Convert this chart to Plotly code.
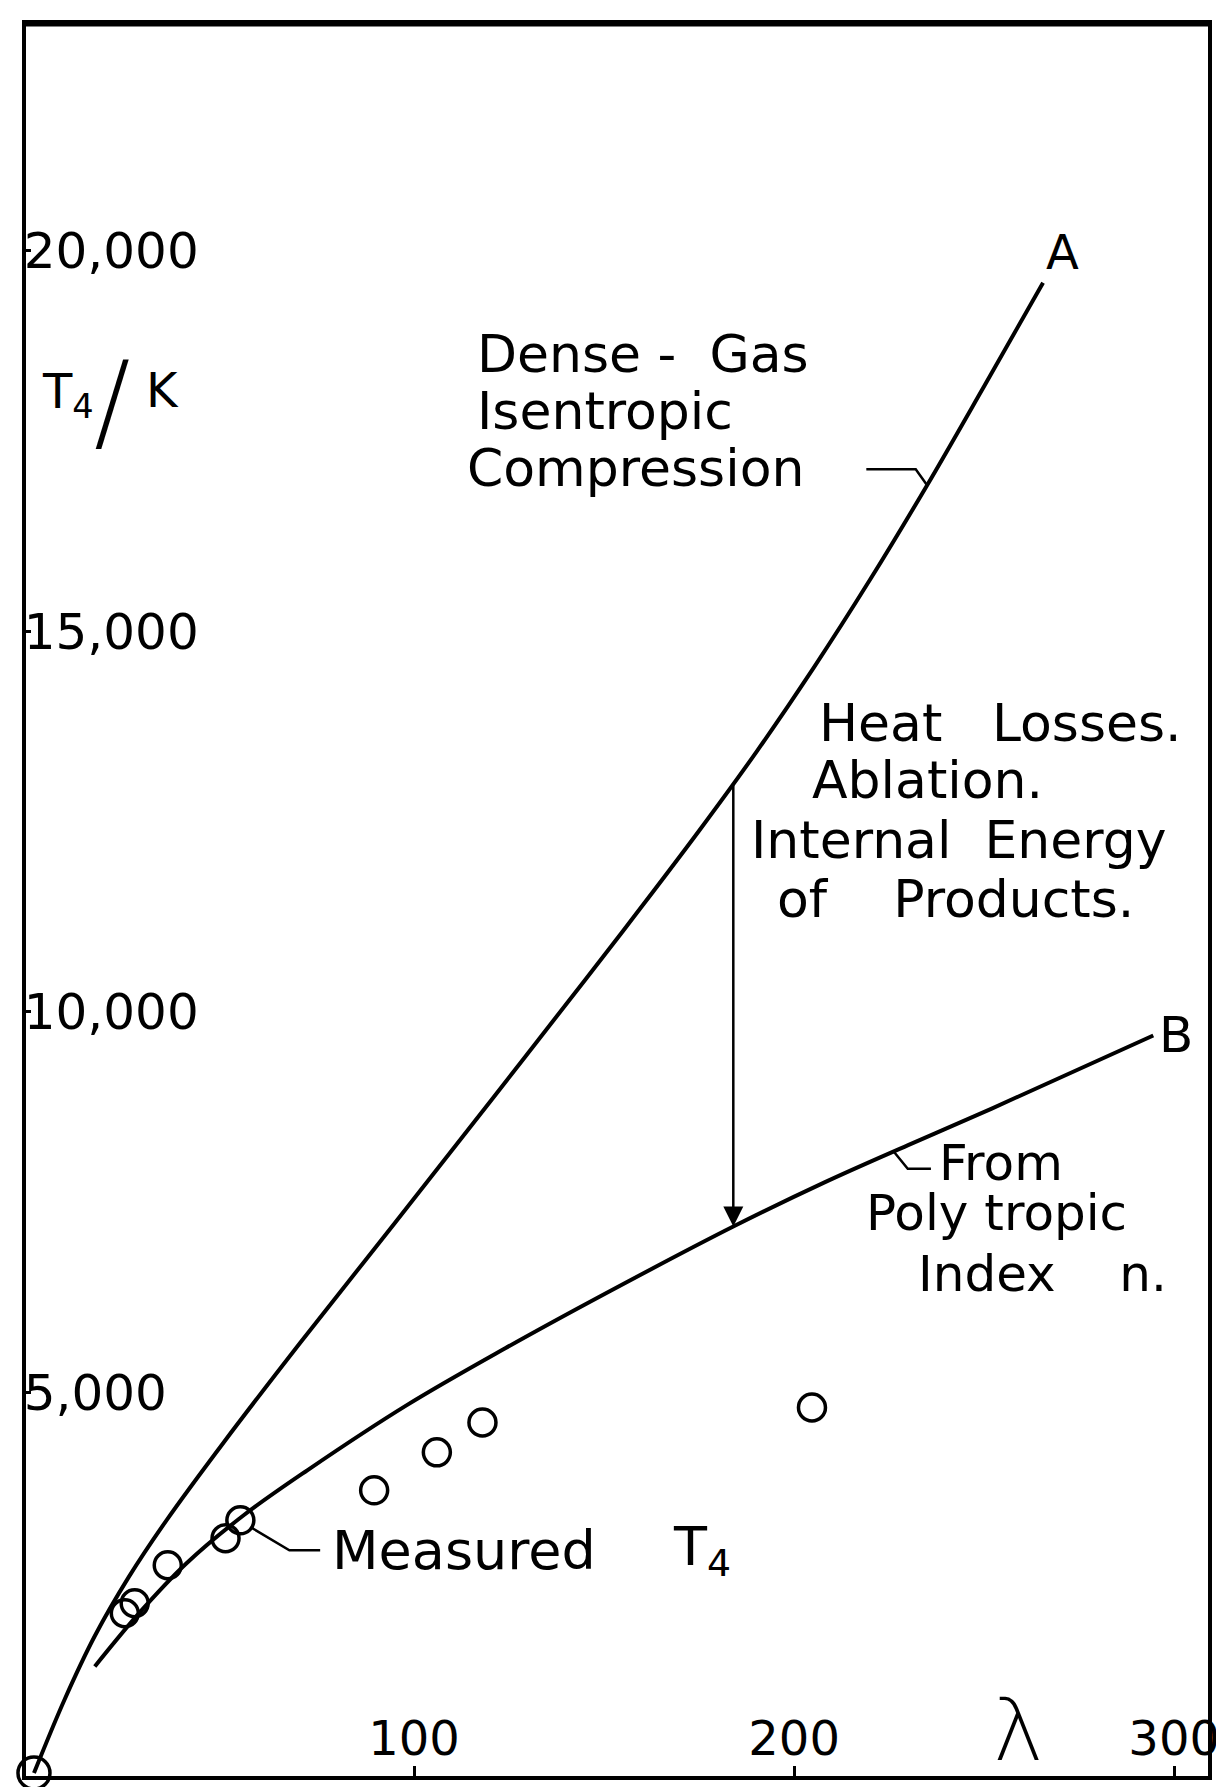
import numpy as np
import plotly.graph_objects as go

# ---- data (lambda, T4 in K) ----
# Curve A: dense-gas isentropic compression
lam_A = [0, 8, 16, 25, 35, 50, 70, 95, 120, 145, 160, 175, 190, 205, 220, 235, 250, 265.5]
T_A = [0, 960, 1800, 2580, 3330, 4350, 5650, 7230, 8820, 10420, 11390, 12380, 13410,
       14510, 15680, 16920, 18220, 19580]

# Curve B: from polytropic index n
lam_B = [16, 28, 40, 55, 72, 98, 124, 150, 184, 208, 230, 252, 294.5]
T_B = [1400, 2120, 2750, 3380, 3980, 4830, 5580, 6290, 7180, 7760, 8250, 8730, 9690]

# Measured T4
lam_meas = [0, 23.9, 26.5, 35.2, 50.4, 54.3, 89.5, 106, 118, 204.7]
T_meas = [0, 2100, 2231, 2730, 3084, 3320, 3714, 4213, 4606, 4803]

# Axis ticks
x_tickvals = [100, 200, 300]
x_ticktext = ["100", "200", "300"]
y_tickvals = [5000, 10000, 15000, 20000]
y_ticktext = ["5,000", "10,000", "15,000", "20,000"]

# lambda at which the "losses" arrow is drawn
arrow_lam = 184

FONT = "DejaVu Sans"
BLACK = "black"


def A_at(l):
    return float(np.interp(l, lam_A, T_A))


def B_at(l):
    return float(np.interp(l, lam_B, T_B))


fig = go.Figure()

curve_line = dict(color=BLACK, width=4, shape="spline", smoothing=1.0)
fig.add_trace(go.Scatter(x=lam_A, y=T_A, mode="lines", line=curve_line, hoverinfo="skip"))
fig.add_trace(go.Scatter(x=lam_B, y=T_B, mode="lines", line=curve_line, hoverinfo="skip"))
fig.add_trace(go.Scatter(x=lam_meas, y=T_meas, mode="markers", cliponaxis=False,
                         marker=dict(symbol="circle-open", color=BLACK, opacity=1,
                                     size=[32] + [27] * (len(lam_meas) - 1),
                                     line=dict(width=3.5, color=BLACK)),
                         hoverinfo="skip"))

# leader lines
leaders = [
    ([219, 232, 235], [17130, 17130, A_at(235)]),
    ([57, 67.2, 75.3], [3230, 2927, 2927]),
    ([226.2, 229.9, 236], [B_at(226.2), 7940, 7940]),
]
for lx, ly in leaders:
    fig.add_trace(go.Scatter(x=lx, y=ly, mode="lines",
                             line=dict(color=BLACK, width=2.5), hoverinfo="skip"))

annotations = []


def label(text, x, y, size, xanchor="left", weight=None):
    f = dict(size=size, family=FONT, color=BLACK)
    if weight is not None:
        f["weight"] = weight
    annotations.append(dict(text=text, x=x, y=y, xref="x", yref="y", showarrow=False,
                            xanchor=xanchor, yanchor="middle", font=f))


NB = "\u00a0"
label("Dense" + NB + "-" + NB * 2 + "Gas", 116, 18650, 52)
label("Isentropic", 116, 17900, 52)
label("Compression", 113.5, 17140, 52)

label("Heat" + NB * 3 + "Losses.", 206, 13800, 52)
label("Ablation.", 204.3, 13050, 52)
label("Internal" + NB * 2 + "Energy", 188, 12260, 52)
label("of" + NB * 4 + "Products.", 195, 11480, 52)

label("From", 237.5, 8020, 50)
label("Poly" + NB + "tropic", 218.5, 7360, 50)
label("Index" + NB * 4 + "n.", 232, 6560, 50)

label("Measured", 78, 2930, 54)
label("T<sub>4</sub>", 167.5, 2930, 54)

label("A", 270.5, 19990, 48, "center")
label("B", 300.5, 9690, 50, "center")
label("λ", 259, 560, 85, "center", weight=300)

# y-axis title  T4 / K
label("T<sub>4</sub>", 1.5, 18110, 48)
label("/", 20.5, 18020, 108, "center", weight=300)
label("K", 29.0, 18170, 48)

# arrow from curve A down to curve B
annotations.append(dict(x=arrow_lam, y=B_at(arrow_lam), ax=arrow_lam, ay=A_at(arrow_lam),
                        xref="x", yref="y", axref="x", ayref="y", text="",
                        showarrow=True, arrowhead=2, arrowsize=1.6, arrowwidth=2.5,
                        arrowcolor=BLACK, standoff=0, startstandoff=0))

fig.update_layout(
    width=1224, height=1787,
    margin=dict(l=18, r=21, t=14, b=19),
    plot_bgcolor="white", paper_bgcolor="white",
    showlegend=False,
    font=dict(family=FONT, color=BLACK),
    annotations=annotations,
    shapes=[dict(type="line", xref="paper", yref="paper", x0=0, x1=1, y0=1, y1=1,
                 line=dict(color=BLACK, width=5))],
)
fig.update_xaxes(range=[-2.1, 308.9], showline=True, mirror=True, linecolor=BLACK,
                 linewidth=3.5, showgrid=False, zeroline=False,
                 tickvals=x_tickvals, ticktext=x_ticktext, ticks="inside",
                 ticklen=10, tickwidth=2.5, tickcolor=BLACK,
                 ticklabelposition="inside", ticklabelstandoff=8,
                 ticklabeloverflow="allow",
                 tickfont=dict(size=48, family=FONT, color=BLACK))
fig.update_yaxes(range=[-39, 22979], showline=True, mirror=True, linecolor=BLACK,
                 linewidth=3.5, showgrid=False, zeroline=False,
                 tickvals=y_tickvals, ticktext=y_ticktext, ticks="inside",
                 ticklen=5, tickwidth=3, tickcolor=BLACK,
                 ticklabelposition="inside", ticklabelstandoff=0,
                 ticklabeloverflow="allow",
                 tickfont=dict(size=50, family=FONT, color=BLACK))

fig.write_html("out.html")
